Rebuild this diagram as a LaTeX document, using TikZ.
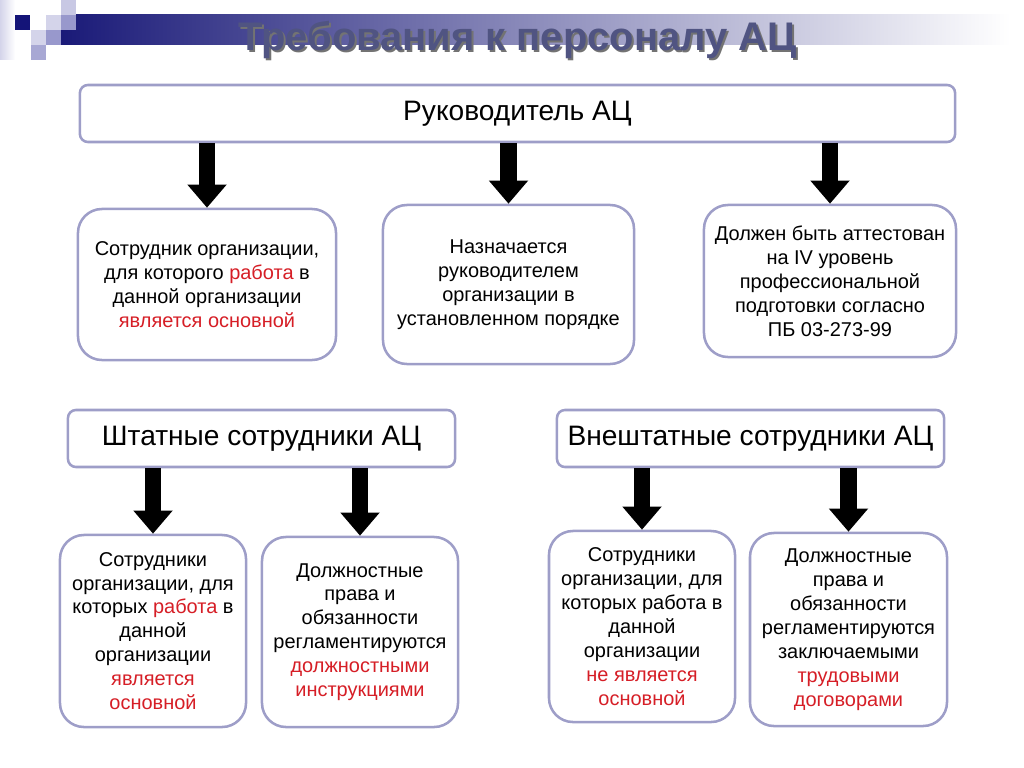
\documentclass[tikz,border=0pt]{standalone}
\usepackage{fontspec}
\setmainfont{Liberation Sans}
\usepackage{xcolor}
\usetikzlibrary{arrows.meta}
\definecolor{frameLav}{RGB}{158,158,200}
\definecolor{keyRed}{RGB}{214,30,38}
\definecolor{titleInk}{RGB}{80,84,130}
\definecolor{barNavy}{RGB}{26,26,120}
\definecolor{tileDark}{RGB}{20,20,120}
\definecolor{tileMid}{RGB}{152,152,204}
\definecolor{tileLight}{RGB}{212,212,234}
\newcommand{\hl}[1]{\textcolor{keyRed}{#1}}
\tikzset{
  headbox/.style={draw=frameLav, line width=1.8pt, rounded corners=0.2cm, fill=white, inner sep=0pt, font=\fontsize{20}{24}\selectfont},
  notebox/.style={draw=frameLav, line width=1.8pt, rounded corners=0.6cm, fill=white, inner sep=0pt, align=center, font=\fontsize{14.2}{17}\selectfont},
  downarrow/.style={line width=12pt, -{Triangle[width=27pt,length=16.5pt]}}
}

\begin{document}
\begin{tikzpicture}[x=0.025cm, y=-0.025cm]
    \useasboundingbox (0,0) rectangle (1024,768);
    % header decoration
    \shade[left color=tileLight, right color=white] (0,0) rectangle (15,60);
    \shade[left color=barNavy, right color=white] (61,15) rectangle (1010,45);
    \fill[tileDark] (15,15) rectangle (30,30);
    \fill[tileLight] (46,15) rectangle (61,30);
    \fill[tileLight!80!tileMid] (61,0) rectangle (76,15);
    \fill[tileMid] (61,15) rectangle (76,30);
    \fill[tileLight] (31,30) rectangle (46,45);
    \fill[tileMid] (46,30) rectangle (61,45);
    \fill[tileMid!85!white] (31,45) rectangle (46,60);
    \node[font=\bfseries\fontsize{28.4}{32}\selectfont, text=black!55] (titleshadow) at (519.5,42.5) {Требования к персоналу АЦ};
    \node[font=\bfseries\fontsize{28.4}{32}\selectfont, text=titleInk] (title) at (517.5,40.5) {Требования к персоналу АЦ};

    \node[headbox, minimum width=21.875cm, minimum height=1.425cm] (head) at (517.5,113.5) {Руководитель АЦ};
    \node[notebox, minimum width=6.45cm, minimum height=3.775cm] (hA) at (207,284.5) {Сотрудник организации,\\для которого \hl{работа} в\\данной организации\\\hl{является основной}};
    \node[notebox, minimum width=6.275cm, minimum height=3.975cm] (hB) at (508.5,284.5) {Назначается\\руководителем\\организации в\\установленном порядке};
    \node[notebox, minimum width=6.3cm, minimum height=3.8cm] (hC) at (830,281) {Должен быть аттестован\\на IV уровень\\профессиональной\\подготовки согласно\\ПБ 03-273-99};

    \node[headbox, minimum width=9.675cm, minimum height=1.425cm] (staff) at (261.5,438.5) {Штатные сотрудники АЦ};
    \node[headbox, minimum width=9.675cm, minimum height=1.425cm] (extra) at (750.5,438.5) {Внештатные сотрудники АЦ};

    \node[notebox, minimum width=4.65cm, minimum height=4.8cm] (sA) at (153,631) {Сотрудники\\организации, для\\которых \hl{работа} в\\данной\\организации\\\hl{является}\\\hl{основной}};
    \node[notebox, minimum width=4.9cm, minimum height=4.75cm] (sB) at (360,632) {Должностные\\права и\\обязанности\\регламентируются\\\hl{должностными}\\\hl{инструкциями}};
    \node[notebox, minimum width=4.65cm, minimum height=4.775cm] (eA) at (642,626.5) {Сотрудники\\организации, для\\которых работа в\\данной\\организации\\\hl{не является}\\\hl{основной}};
    \node[notebox, minimum width=4.925cm, minimum height=4.825cm] (eB) at (848.5,629.5) {Должностные\\права и\\обязанности\\регламентируются\\заключаемыми\\\hl{трудовыми}\\\hl{договорами}};

    \draw[downarrow] (head.south -| hA.north) -- (hA.north);
    \draw[downarrow] (head.south -| hB.north) -- (hB.north);
    \draw[downarrow] (head.south -| hC.north) -- (hC.north);
    \draw[downarrow] (staff.south -| sA.north) -- (sA.north);
    \draw[downarrow] (staff.south -| sB.north) -- (sB.north);
    \draw[downarrow] (extra.south -| eA.north) -- (eA.north);
    \draw[downarrow] (extra.south -| eB.north) -- (eB.north);
\end{tikzpicture}
\end{document}
